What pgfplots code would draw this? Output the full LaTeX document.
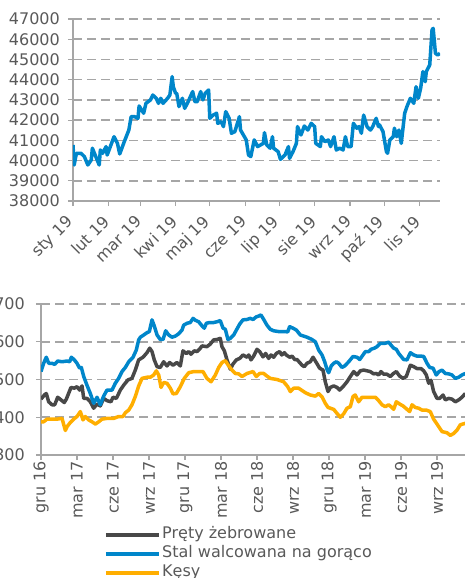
\documentclass[border=0pt]{standalone}
\usepackage{graphicx}
\usepackage{pgfplots}
\pgfplotsset{compat=1.18}
\usepackage{fontspec}
\setmainfont{DejaVu Sans}
\definecolor{cblue}{RGB}{0,134,202}
\definecolor{cgray}{RGB}{72,72,72}
\definecolor{corange}{RGB}{255,174,0}
\definecolor{cgrid}{RGB}{166,166,166}
\definecolor{ctext}{RGB}{89,89,89}
\newcommand{\rl}[1]{\rotatebox{45}{#1}}
\pgfplotsset{
  mystyle/.style={
    scale only axis,
    axis x line=bottom, axis y line=left,
    axis line style={cgrid, line width=1.5pt, -},
    ymajorgrids, grid style={cgrid, line width=1.6pt, dash pattern=on 9pt off 5pt},
    tick style={cgrid, line width=1.2pt},
    tick align=outside, major tick length=5pt,
    ticklabel style={font=\fontsize{16}{19}\selectfont, text=ctext},
    /pgf/number format/assume math mode=true,
    /pgf/number format/1000 sep={},
    scaled ticks=false,
    every axis plot/.append style={line width=3.5pt, line join=round, no marks},
  }
}
\begin{document}
\begin{tikzpicture}
\useasboundingbox (0pt,0pt) rectangle (465pt,-578pt);
% ---------- top chart ----------
\begin{axis}[mystyle,
  at={(73pt,-201pt)}, anchor=south west,
  width=367pt, height=182pt,
  xmin=0, xmax=322, ymin=38000, ymax=47000,
  ytick={38000,39000,...,47000},
  xtick={0,31,59,90,120,151,181,212,243,273,304},
  xticklabels={\rl{sty 19},\rl{lut 19},\rl{mar 19},\rl{kwi 19},\rl{maj 19},\rl{cze 19},\rl{lip 19},\rl{sie 19},\rl{wrz 19},\rl{paź 19},\rl{lis 19}},
  x tick label style={anchor=north east, inner sep=0pt, xshift=3pt, yshift=-8pt},
  y tick label style={anchor=east, inner sep=1pt, xshift=-7pt},
]
\addplot[cblue] coordinates {
(0,40770)(1,39780)(3,40360)(7,40360)(10,40195)(13,39780)(16,40030)(17,40610)(20,40195)(23,39780)(24,40525)(26,40360)(29,40690)(30,40275)(36,41180)(39,40850)(41,40325)(45,40935)(49,41510)(51,42170)(54,42170)(57,42090)(58,42700)(62,42340)(64,42830)(68,43000)(70,43240)(73,43080)(75,42830)(77,43080)(79,42830)(83,43080)(85,43240)(87,44150)(88,43650)(90,43325)(91,43325)(93,42670)(96,43080)(98,42580)(101,42910)(105,43410)(107,42910)(109,42910)(112,43410)(114,43000)(116,43325)(119,43490)(120,42090)(123,42250)(126,42340)(127,41840)(130,41920)(132,41680)(134,42420)(137,42090)(139,41350)(142,41430)(146,42170)(147,41510)(152,41020)(154,40275)(156,40195)(159,41020)(162,40690)(167,40850)(168,41380)(170,40770)(173,40610)(175,41180)(176,40610)(180,40440)(182,40060)(186,40275)(189,40690)(190,40110)(193,40440)(196,40850)(197,41680)(200,41265)(203,41710)(206,41510)(209,41840)(212,41680)(213,40850)(217,40690)(218,41180)(221,40935)(224,41020)(226,40690)(229,41180)(231,40525)(234,40610)(237,40525)(239,41180)(241,40690)(244,40690)(246,41840)(249,41600)(251,41680)(253,41350)(255,42250)(258,41680)(261,41510)(263,41680)(266,42090)(268,41680)(269,41760)(272,41430)(275,40440)(276,40360)(278,41020)(281,41180)(282,41600)(284,41180)(286,41510)(288,40850)(291,42340)(293,42670)(296,43080)(299,42830)(301,43650)(303,43080)(305,43570)(307,44400)(309,43900)(310,44400)(313,44730)(315,46460)(316,46540)(318,45300)(320,45220)(322,45300)
};
\end{axis}
% ---------- bottom chart ----------
\begin{axis}[mystyle,
  at={(41pt,-455pt)}, anchor=south west,
  width=427.2pt, height=151pt,
  xmin=0, xmax=35.6, ymin=300, ymax=700,
  ytick={300,400,...,700},
  xtick={0,3,...,33},
  xticklabels={gru 16,mar 17,cze 17,wrz 17,gru 17,mar 18,cze 18,wrz 18,gru 18,mar 19,cze 19,wrz 19},
  x tick label style={rotate=90, anchor=east, inner sep=1pt},
  y tick label style={anchor=east, inner sep=1pt, xshift=-10pt},
  legend style={at={(0.1475,-0.465)}, anchor=north west, draw=none, fill=none,
    font=\fontsize{16}{19}\selectfont, text=ctext, inner sep=0pt,
    nodes={inner sep=1.5pt, text height=12pt, text depth=4pt}},
  legend cell align=left,
  legend image code/.code={\draw[#1, line width=3.5pt] (0pt,0pt) -- (53pt,0pt);},
]
\addplot[cgray] coordinates {
(0,448)(0.28,459)(0.44,463)(0.64,441)(0.92,433)(1.14,433)(1.39,453)(1.67,446)(1.94,439)(2.11,448)(2.5,479)(2.78,477)(3.0,481)(3.22,472)(3.42,483)(3.56,450)(3.83,450)(4.11,441)(4.39,424)(4.67,435)(4.94,430)(5.22,450)(5.5,444)(5.83,441)(6.0,453)(6.28,450)(6.61,472)(6.89,485)(7.25,499)(7.58,503)(7.86,525)(8.14,552)(8.5,559)(8.83,571)(9.06,583)(9.25,574)(9.44,552)(9.67,534)(9.94,532)(10.22,547)(10.5,536)(10.72,545)(11.0,538)(11.33,545)(11.61,536)(11.83,576)(12.11,569)(12.31,574)(12.5,567)(12.78,576)(13.0,574)(13.28,583)(13.42,589)(13.83,587)(14.11,594)(14.39,605)(14.67,606)(14.94,609)(15.08,587)(15.28,576)(15.5,552)(15.78,527)(16.0,541)(16.28,552)(16.56,556)(16.83,565)(17.17,559)(17.31,565)(17.5,552)(17.72,562)(18.0,580)(18.22,574)(18.5,560)(18.72,569)(18.97,556)(19.17,565)(19.39,559)(19.61,569)(19.89,574)(20.06,565)(20.28,571)(20.44,565)(20.72,559)(20.92,562)(21.14,553)(21.33,553)(21.75,538)(21.94,534)(22.17,543)(22.44,547)(22.67,559)(22.94,545)(23.22,530)(23.5,525)(23.69,494)(23.92,468)(24.11,479)(24.39,483)(24.67,479)(24.89,472)(25.22,483)(25.5,494)(25.78,508)(26.06,521)(26.33,512)(26.61,523)(26.89,525)(27.17,523)(27.44,521)(27.72,515)(27.94,516)(28.14,512)(28.33,521)(28.56,514)(28.83,514)(29.11,508)(29.33,515)(29.61,521)(29.89,509)(30.17,503)(30.44,508)(30.78,538)(31.06,534)(31.33,529)(31.67,529)(31.89,523)(32.11,512)(32.31,490)(32.5,498)(32.72,468)(33.0,450)(33.22,450)(33.5,459)(33.69,446)(33.97,450)(34.25,448)(34.53,441)(34.81,446)(35.08,453)(35.36,463)
};
\addlegendentry{Pręty żebrowane}
\addplot[cblue] coordinates {
(0,521)(0.22,543)(0.44,559)(0.64,543)(0.92,543)(1.14,540)(1.39,549)(1.75,547)(2.17,549)(2.39,547)(2.53,559)(2.78,552)(3.0,543)(3.22,530)(3.36,532)(3.56,508)(3.83,485)(4.11,463)(4.39,437)(4.67,453)(4.94,433)(5.22,456)(5.5,472)(5.92,472)(6.19,490)(6.47,503)(6.75,521)(7.03,532)(7.31,547)(7.67,559)(7.94,578)(8.14,605)(8.28,612)(8.56,618)(8.83,624)(9.03,627)(9.25,658)(9.44,642)(9.67,618)(9.94,606)(10.17,606)(10.39,629)(10.64,618)(10.92,612)(11.19,615)(11.47,621)(11.75,631)(11.89,644)(12.17,649)(12.44,651)(12.67,662)(12.86,657)(13.14,653)(13.42,642)(13.61,636)(13.78,649)(14.06,651)(14.39,651)(14.67,653)(14.94,656)(15.17,636)(15.36,633)(15.58,606)(15.78,609)(16.06,618)(16.28,631)(16.56,647)(16.83,658)(17.17,659)(17.44,662)(17.67,659)(17.94,666)(18.14,668)(18.33,671)(18.56,659)(18.83,644)(19.11,633)(19.39,629)(19.81,627)(20.36,627)(20.56,626)(20.72,640)(21.0,636)(21.28,631)(21.61,618)(21.89,615)(22.17,612)(22.58,606)(22.86,600)(23.14,578)(23.42,565)(23.64,547)(23.83,527)(23.97,518)(24.19,536)(24.39,543)(24.61,547)(24.81,543)(25.08,532)(25.31,536)(25.64,547)(26.0,561)(26.33,559)(26.56,553)(26.83,565)(27.03,574)(27.31,574)(27.5,580)(27.78,583)(28.0,587)(28.28,596)(28.69,596)(28.97,599)(29.17,591)(29.39,583)(29.61,580)(29.81,569)(30.22,553)(30.5,552)(30.78,571)(31.06,565)(31.33,562)(31.67,562)(31.89,561)(32.17,543)(32.39,532)(32.67,530)(32.94,512)(33.17,521)(33.42,525)(33.69,516)(33.97,515)(34.25,512)(34.53,503)(34.81,506)(35.08,512)(35.36,516)
};
\addlegendentry{Stal walcowana na gorąco}
\addplot[corange] coordinates {
(0,388)(0.22,388)(0.5,395)(0.78,395)(1.33,395)(1.75,397)(2.03,365)(2.17,375)(2.44,386)(2.72,395)(3.0,402)(3.28,415)(3.5,393)(3.69,402)(3.97,393)(4.25,388)(4.53,382)(4.81,388)(5.08,395)(5.5,397)(6.06,397)(6.47,402)(6.83,402)(7.03,412)(7.31,419)(7.58,433)(7.86,455)(8.14,483)(8.42,503)(8.83,506)(9.11,506)(9.39,512)(9.61,523)(9.81,512)(10.0,479)(10.22,492)(10.5,490)(10.78,477)(11.0,462)(11.28,463)(11.61,481)(11.94,503)(12.31,518)(12.72,521)(13.14,521)(13.5,521)(13.83,503)(14.17,494)(14.53,512)(14.81,532)(15.08,545)(15.36,550)(15.64,536)(15.92,525)(16.19,516)(16.47,515)(16.75,508)(17.17,516)(17.67,521)(17.94,508)(18.22,516)(18.56,516)(18.83,509)(19.11,503)(19.67,500)(20.22,494)(20.56,481)(20.78,468)(21.06,477)(21.47,477)(21.75,471)(22.03,465)(22.44,459)(22.86,456)(23.14,463)(23.42,454)(23.69,437)(23.92,426)(24.11,424)(24.39,421)(24.67,410)(24.94,400)(25.22,409)(25.5,424)(25.78,428)(26.0,455)(26.19,459)(26.47,441)(26.75,453)(27.03,453)(27.44,453)(27.86,453)(28.14,444)(28.42,433)(28.69,428)(28.97,433)(29.17,428)(29.39,421)(29.61,441)(29.89,435)(30.17,430)(30.5,421)(30.72,415)(30.92,433)(31.19,426)(31.47,424)(31.75,419)(32.11,419)(32.44,415)(32.72,395)(33.0,382)(33.42,362)(33.83,359)(34.11,352)(34.39,357)(34.67,366)(34.94,380)(35.36,384)
};
\addlegendentry{Kęsy}
\end{axis}
\end{tikzpicture}
\end{document}
